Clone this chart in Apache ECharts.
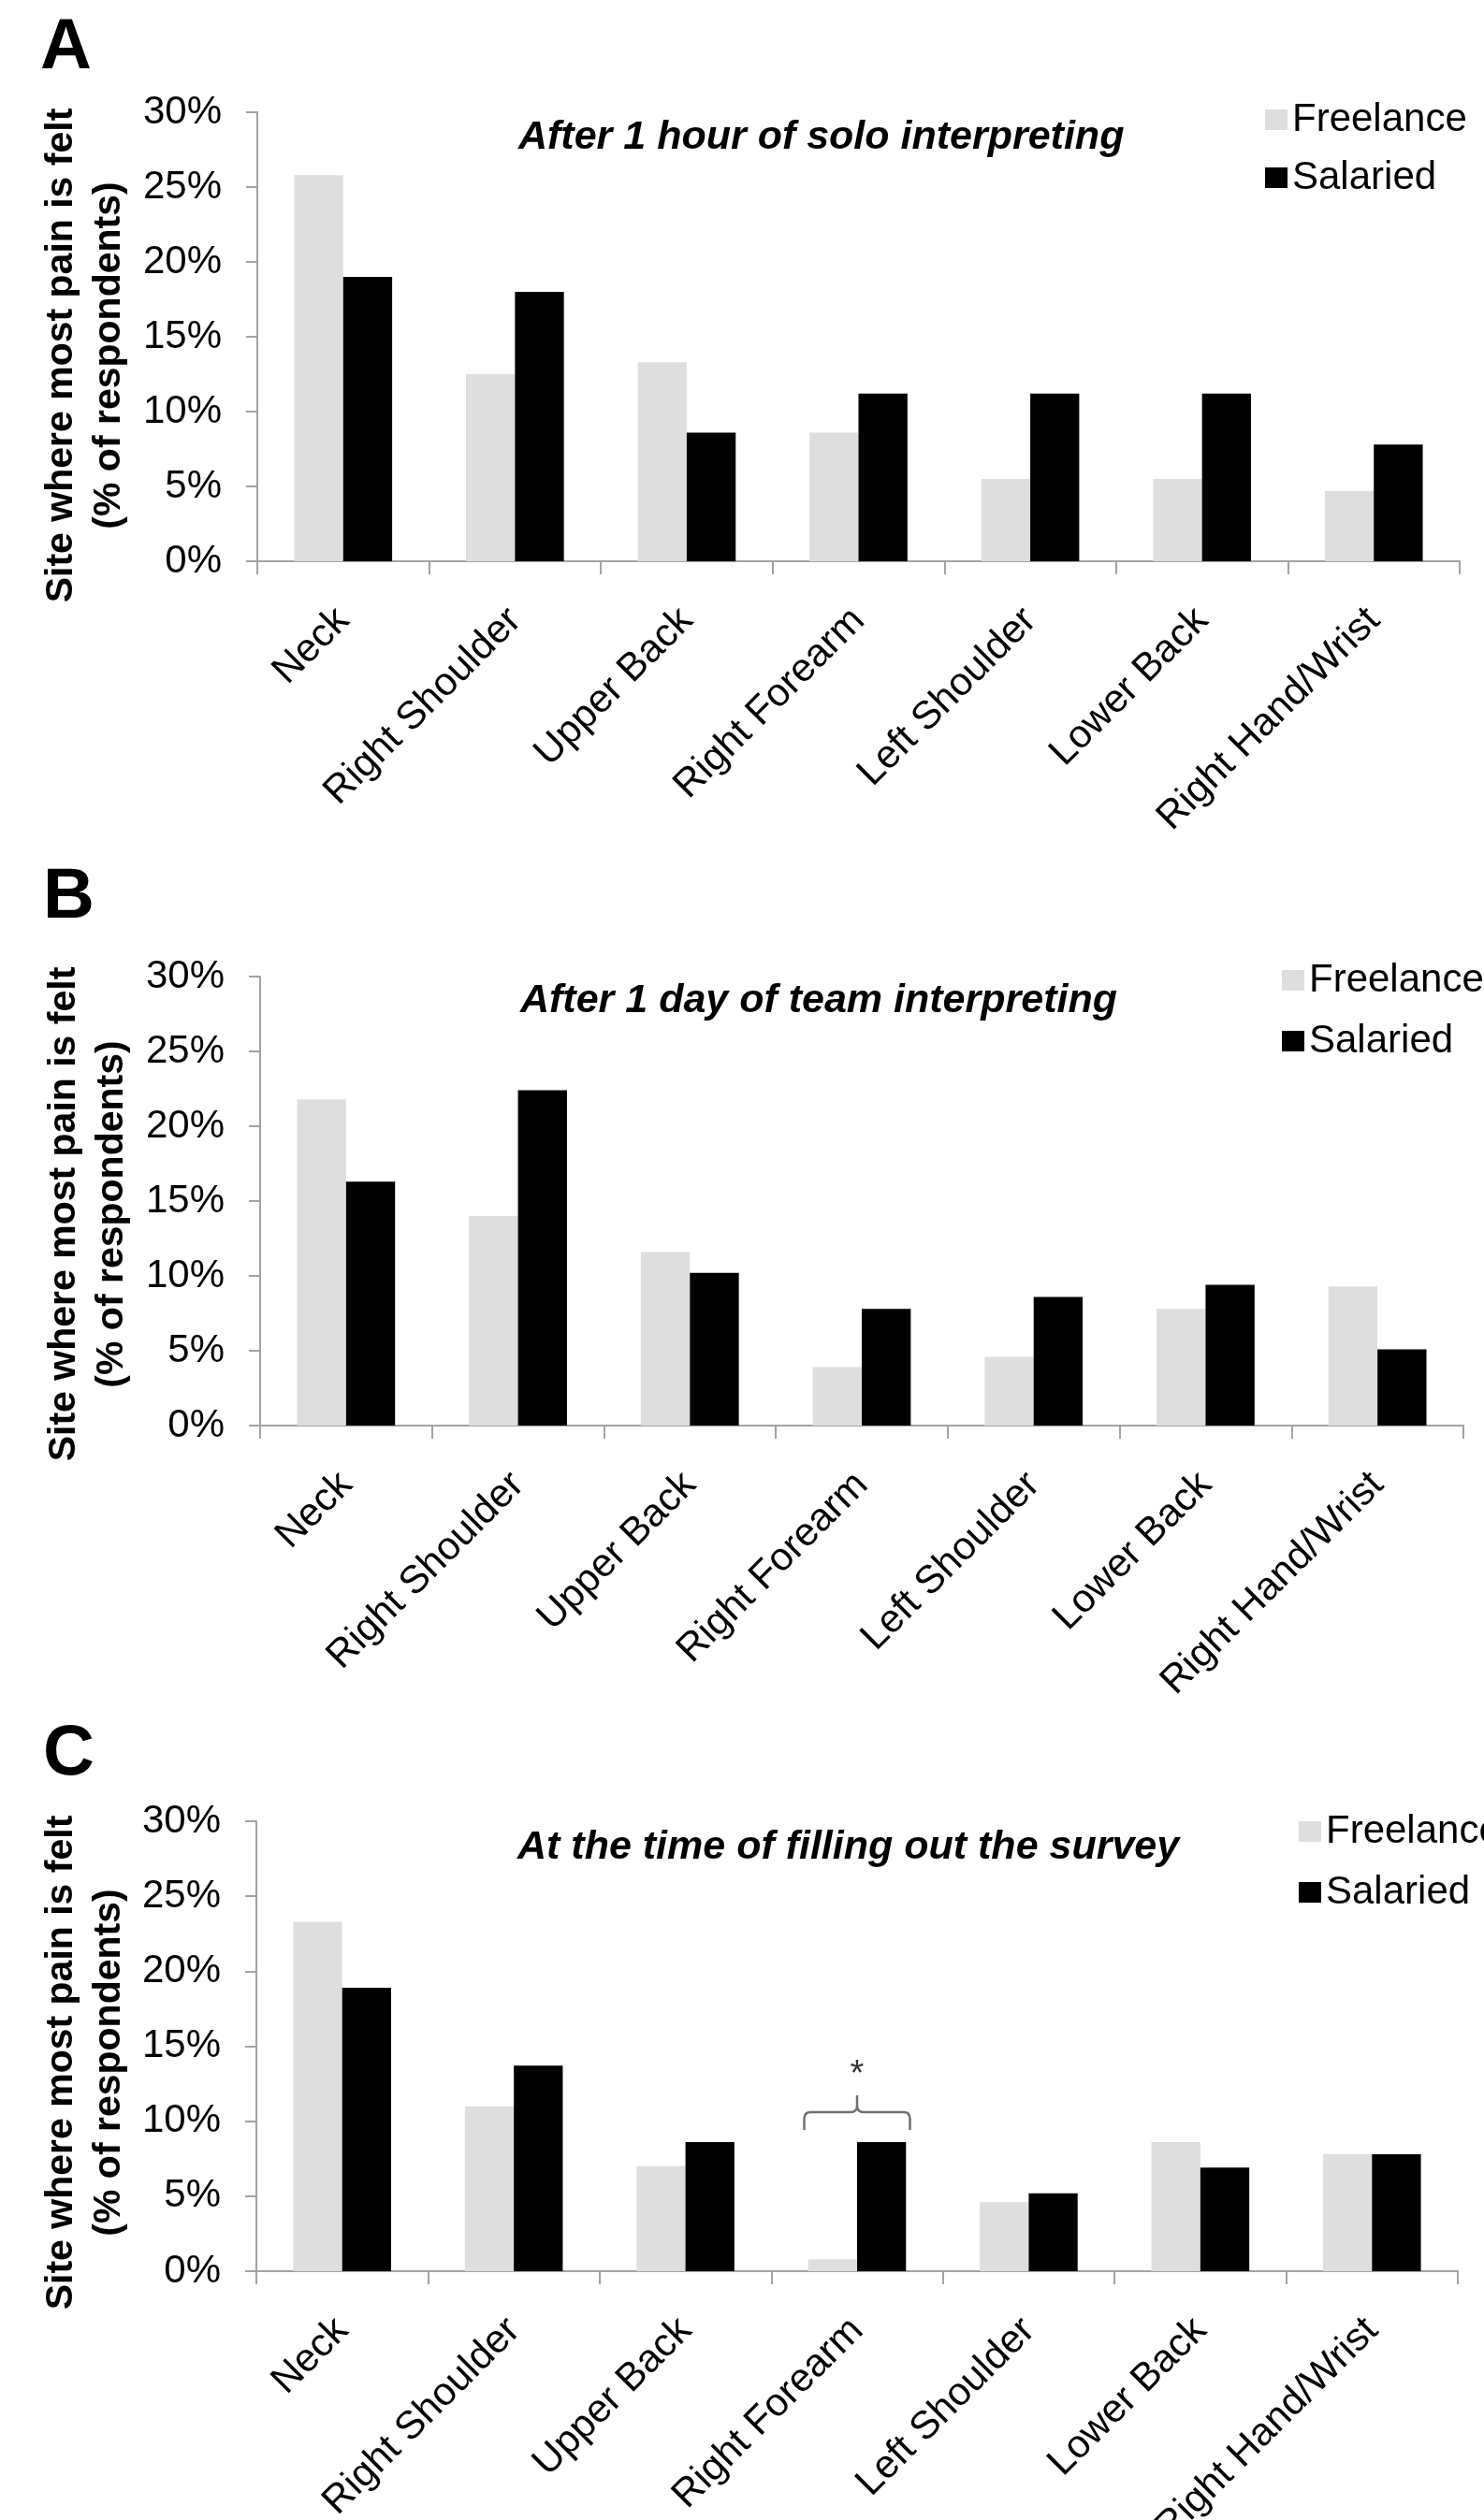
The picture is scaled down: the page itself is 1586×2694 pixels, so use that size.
<!DOCTYPE html>
<html>
<head>
<meta charset="utf-8">
<script src="https://cdn.jsdelivr.net/npm/echarts@6/dist/echarts.min.js"></script>
<style>
  html, body { margin: 0; padding: 0; background: #ffffff; }
  #chart { width: 1586px; height: 2694px; }
</style>
</head>
<body>
<div id="chart"></div>
<script>
// ---------------- data ----------------
const categories = ['Neck', 'Right Shoulder', 'Upper Back', 'Right Forearm', 'Left Shoulder', 'Lower Back', 'Right Hand/Wrist'];
const seriesNames = ['Freelance', 'Salaried'];
const yTicks = [0, 5, 10, 15, 20, 25, 30];

const panelLetters = ['A', 'B', 'C'];
const panelTitles = ['After 1 hour of solo interpreting', 'After 1 day of team interpreting', 'At the time of filling out the survey'];

const freelanceA = [25.8, 12.5, 13.3, 8.6, 5.5, 5.5, 4.7];
const salariedA  = [19.0, 18.0, 8.6, 11.2, 11.2, 11.2, 7.8];
const freelanceB = [21.8, 14.0, 11.6, 3.9, 4.6, 7.8, 9.3];
const salariedB  = [16.3, 22.4, 10.2, 7.8, 8.6, 9.4, 5.1];
const freelanceC = [23.3, 11.0, 7.0, 0.8, 4.6, 8.6, 7.8];
const salariedC  = [18.9, 13.7, 8.6, 8.6, 5.2, 6.9, 7.8];

const sigCategory = 'Right Forearm';
const sigLevel = 10.6;
const sigMark = '*';

const yTitle = 'Site where most pain is felt\n(% of respondents)';

// ---------------- layout / style ----------------
const FONT = 'Liberation Sans, Arial, Helvetica, sans-serif';
const AXIS_COLOR = '#a3a3a3';
const COLORS = ['#dedede', '#000000'];

const grids = [
  { left: 275, top: 120,  width: 1285, height: 480 },
  { left: 278, top: 1044, width: 1286, height: 480 },
  { left: 274, top: 1947, width: 1284, height: 481 }
];
const titlePos = [ { x: 554, y: 147 }, { x: 556, y: 1070 }, { x: 553, y: 1975 } ];
const letterPos = [ { x: 43, y: 52 }, { x: 46, y: 960 }, { x: 46, y: 1876 } ];
const yTitlePos = [ { x: 91, y: 380 }, { x: 94, y: 1298 }, { x: 91, y: 2205 } ];
const legendPos = [ { left: 1352, top: 107, gap: 20 }, { left: 1370, top: 1027, gap: 23 }, { left: 1388, top: 1937, gap: 23 } ];

const panelData = [
  [freelanceA, salariedA],
  [freelanceB, salariedB],
  [freelanceC, salariedC]
];

const chart = echarts.init(document.getElementById('chart'), null, { renderer: 'canvas', width: 1586, height: 2694 });

const xAxes = [], yAxes = [], series = [], legends = [], graphics = [];

grids.forEach((g, i) => {
  g.outerBoundsMode = 'none';
  g.containLabel = false;

  xAxes.push({
    type: 'category',
    gridIndex: i,
    data: categories,
    boundaryGap: true,
    axisLine: { show: true, lineStyle: { color: AXIS_COLOR, width: 2 } },
    axisTick: { show: true, alignWithLabel: false, length: 14, lineStyle: { color: AXIS_COLOR, width: 2 } },
    axisLabel: { interval: 0, rotate: 45, margin: 57, fontSize: 42, color: '#000', fontFamily: FONT },
    splitLine: { show: false }
  });

  yAxes.push({
    type: 'value',
    gridIndex: i,
    min: yTicks[0],
    max: yTicks[yTicks.length - 1],
    interval: yTicks[1] - yTicks[0],
    axisLine: { show: true, lineStyle: { color: AXIS_COLOR, width: 2 } },
    axisTick: { show: true, length: 12, lineStyle: { color: AXIS_COLOR, width: 2 } },
    axisLabel: { formatter: '{value}%', margin: 38, fontSize: 42, color: '#000', fontFamily: FONT },
    splitLine: { show: false }
  });

  seriesNames.forEach((name, s) => {
    series.push({
      type: 'bar',
      name: name,
      xAxisIndex: i,
      yAxisIndex: i,
      data: panelData[i][s],
      barGap: '0%',
      barCategoryGap: '43%',
      itemStyle: { color: COLORS[s] },
      silent: true
    });
  });

  legends.push({
    data: seriesNames,
    orient: 'vertical',
    left: legendPos[i].left,
    top: legendPos[i].top,
    padding: 0,
    icon: 'rect',
    itemWidth: 24,
    itemHeight: 22,
    itemGap: legendPos[i].gap,
    selectedMode: false,
    textStyle: { fontSize: 42, lineHeight: 42, color: '#000', fontFamily: FONT }
  });

  graphics.push({
    type: 'text',
    x: letterPos[i].x,
    y: letterPos[i].y,
    style: { text: panelLetters[i], fontSize: 76, fontWeight: 'bold', fontFamily: FONT, fill: '#000', align: 'left', verticalAlign: 'middle' }
  });
  graphics.push({
    type: 'text',
    x: titlePos[i].x,
    y: titlePos[i].y,
    style: { text: panelTitles[i], fontSize: 43, fontWeight: 'bold', fontStyle: 'italic', fontFamily: FONT, fill: '#000', align: 'left', verticalAlign: 'middle' }
  });
  graphics.push({
    type: 'text',
    x: yTitlePos[i].x,
    y: yTitlePos[i].y,
    rotation: Math.PI / 2,
    style: { text: yTitle, fontSize: 41, fontWeight: 'bold', fontFamily: FONT, fill: '#000', align: 'center', verticalAlign: 'middle', lineHeight: 51 }
  });
});

// significance bracket on panel C, placed through the axes' scales
series.push({
  type: 'custom',
  xAxisIndex: 2,
  yAxisIndex: 2,
  silent: true,
  z: 5,
  encode: { x: 0, y: 1 },
  data: [[sigCategory, sigLevel]],
  renderItem: function (params, api) {
    const c = api.coord([api.value(0), api.value(1)]);
    const bw = api.size([1, 0])[0];
    const half = bw * 0.308;
    const xl = c[0] - half, xr = c[0] + half, cx = c[0], y = c[1];
    const r = 7, leg = 19, stem = 18;
    const d = [
      'M', xl, y + leg, 'L', xl, y + r, 'Q', xl, y, xl + r, y,
      'L', cx - r, y, 'Q', cx, y, cx, y - r, 'L', cx, y - stem,
      'M', cx, y - r, 'Q', cx, y, cx + r, y,
      'L', xr - r, y, 'Q', xr, y, xr, y + r, 'L', xr, y + leg
    ].join(' ');
    return {
      type: 'group',
      children: [
        { type: 'path', shape: { pathData: d }, style: { stroke: '#707070', lineWidth: 2.5, fill: null } },
        { type: 'text', x: cx, y: y - 40, style: { text: sigMark, fontSize: 38, fontFamily: FONT, fill: '#333', align: 'center', verticalAlign: 'middle' } }
      ]
    };
  }
});

chart.setOption({
  backgroundColor: '#ffffff',
  animation: false,
  grid: grids,
  xAxis: xAxes,
  yAxis: yAxes,
  legend: legends,
  series: series,
  graphic: graphics
});
</script>
</body>
</html>
